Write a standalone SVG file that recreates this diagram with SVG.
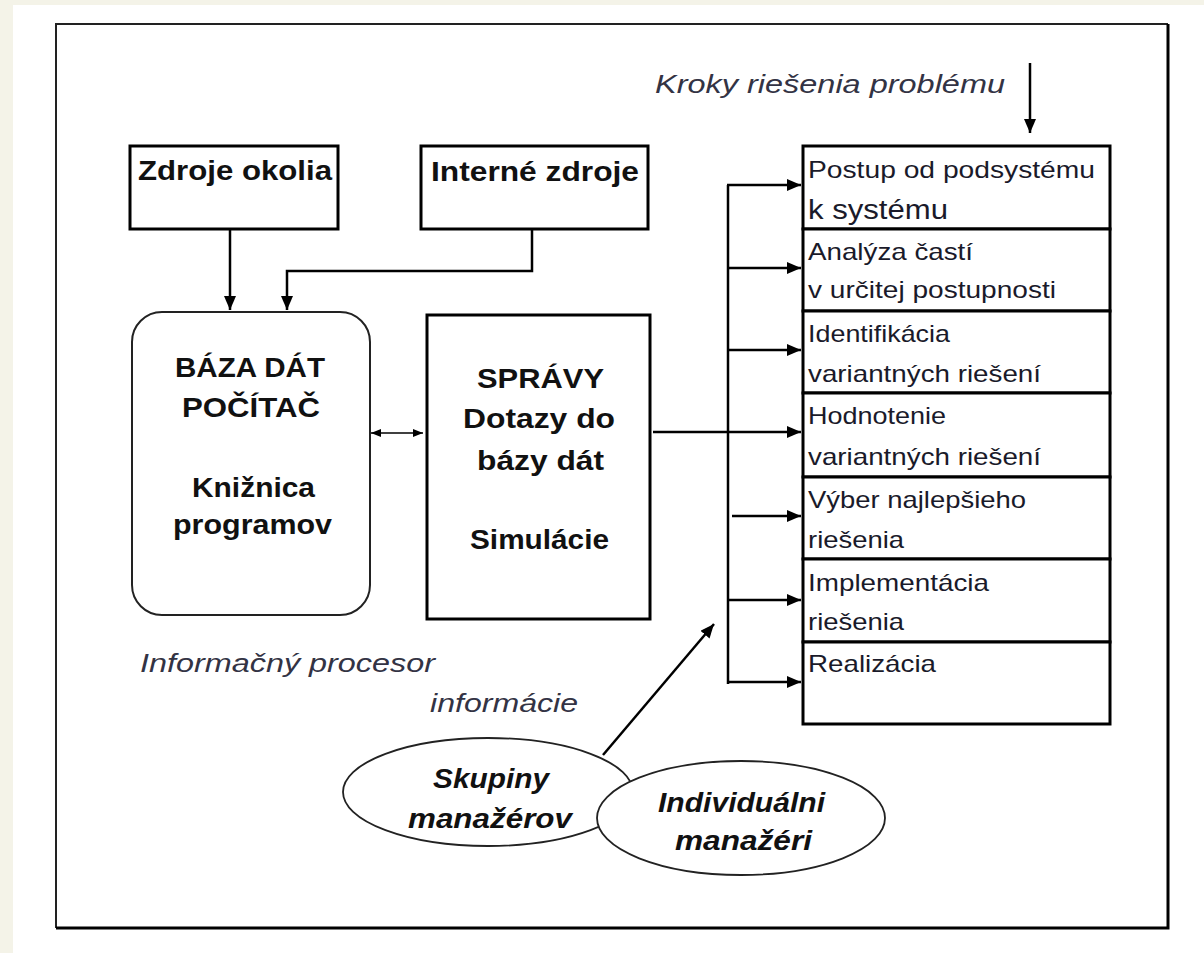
<svg xmlns="http://www.w3.org/2000/svg" width="1204" height="953" viewBox="0 0 1204 953">
<style>
.box{fill:#fff;stroke:#000;stroke-width:3}
.rbox{fill:#fff;stroke:#222;stroke-width:2}
.ell{fill:#fff;stroke:#222;stroke-width:1.8}
.ln{fill:none;stroke:#000;stroke-width:2.5}
.thin{fill:none;stroke:#000;stroke-width:1.6}
.b{font-family:"Liberation Sans",Arial,sans-serif;font-weight:bold;font-size:28px;fill:#111}
.r{font-family:"Liberation Sans",Arial,sans-serif;font-size:24px;fill:#1a1a2a}
.i{font-family:"Liberation Sans",Arial,sans-serif;font-style:italic;font-size:26px;fill:#333344}
.bi{font-family:"Liberation Sans",Arial,sans-serif;font-style:italic;font-weight:bold;font-size:28px;fill:#111}
</style>
<defs>
<marker id="arr" markerUnits="userSpaceOnUse" markerWidth="14" markerHeight="12" refX="14" refY="6" orient="auto"><path d="M0,0 L14,6 L0,12 z" fill="#000"/></marker>
<marker id="sarr" markerUnits="userSpaceOnUse" markerWidth="10" markerHeight="8" refX="10" refY="4" orient="auto-start-reverse"><path d="M0,0 L10,4 L0,8 z" fill="#000"/></marker>
</defs>
<rect x="0" y="0" width="1204" height="953" fill="#f4f3e8"/>
<rect x="13" y="5" width="1191" height="948" fill="#fff"/>
<g id="frame">
<path d="M56,928 L56,24 L1168,24" fill="none" stroke="#222" stroke-width="2"/>
<path d="M1168,24 L1168,928 L56,928" fill="none" stroke="#000" stroke-width="3"/>
</g>
<g id="connectors">
<line class="ln" x1="230" y1="229" x2="230" y2="310" marker-end="url(#arr)"/>
<polyline class="ln" points="532,229 532,271 287,271 287,310" marker-end="url(#arr)"/>
<line class="thin" x1="371" y1="433" x2="423" y2="433" marker-start="url(#sarr)" marker-end="url(#sarr)"/>
<line class="ln" x1="653" y1="432" x2="801" y2="432" marker-end="url(#arr)"/>
<line class="ln" x1="728" y1="185" x2="728" y2="684"/>
<line class="ln" x1="727" y1="185" x2="801" y2="185" marker-end="url(#arr)"/>
<line class="ln" x1="728" y1="268" x2="801" y2="268" marker-end="url(#arr)"/>
<line class="ln" x1="728" y1="350" x2="801" y2="350" marker-end="url(#arr)"/>
<line class="ln" x1="732" y1="516" x2="801" y2="516" marker-end="url(#arr)"/>
<line class="ln" x1="728" y1="600" x2="801" y2="600" marker-end="url(#arr)"/>
<line class="ln" x1="727" y1="682" x2="801" y2="682" marker-end="url(#arr)"/>
<line class="ln" x1="1030" y1="63" x2="1030" y2="133" marker-end="url(#arr)"/>
<line class="ln" x1="603" y1="755" x2="714" y2="624" marker-end="url(#arr)"/>
</g>
<g id="zdroje-okolia">
<rect class="box" x="130" y="146" width="208" height="83"/>
<text class="b" x="138" y="180" textLength="194" lengthAdjust="spacingAndGlyphs">Zdroje okolia</text>
</g>
<g id="interne-zdroje">
<rect class="box" x="421" y="146" width="227" height="83"/>
<text class="b" x="431" y="181" textLength="208" lengthAdjust="spacingAndGlyphs">Interné zdroje</text>
</g>
<g id="baza-dat">
<rect class="rbox" x="132" y="312" width="238" height="303" rx="30" ry="30"/>
<text class="b" x="175" y="377" textLength="150" lengthAdjust="spacingAndGlyphs">BÁZA DÁT</text>
<text class="b" x="182" y="417" textLength="138" lengthAdjust="spacingAndGlyphs">POČÍTAČ</text>
<text class="b" x="192" y="497" textLength="123" lengthAdjust="spacingAndGlyphs">Knižnica</text>
<text class="b" x="173" y="534" textLength="159" lengthAdjust="spacingAndGlyphs">programov</text>
</g>
<g id="spravy">
<rect class="box" x="427" y="315" width="223" height="304"/>
<text class="b" x="477" y="388" textLength="127" lengthAdjust="spacingAndGlyphs">SPRÁVY</text>
<text class="b" x="463" y="428" textLength="152" lengthAdjust="spacingAndGlyphs">Dotazy do</text>
<text class="b" x="477" y="470" textLength="127" lengthAdjust="spacingAndGlyphs">bázy dát</text>
<text class="b" x="470" y="549" textLength="139" lengthAdjust="spacingAndGlyphs">Simulácie</text>
</g>
<g id="kroky">
<text class="i" x="655" y="93" textLength="350" lengthAdjust="spacingAndGlyphs">Kroky riešenia problému</text>
</g>
<g id="step1">
<rect class="box" x="803" y="146" width="307" height="83"/>
<text class="r" x="808" y="178" textLength="287" lengthAdjust="spacingAndGlyphs">Postup od podsystému</text>
<text class="r" x="808" y="219" style="font-size:27px" textLength="140" lengthAdjust="spacingAndGlyphs">k systému</text>
</g>
<g id="step2">
<rect class="box" x="803" y="229" width="307" height="82"/>
<text class="r" x="808" y="260" textLength="165" lengthAdjust="spacingAndGlyphs">Analýza častí</text>
<text class="r" x="808" y="298" textLength="248" lengthAdjust="spacingAndGlyphs">v určitej postupnosti</text>
</g>
<g id="step3">
<rect class="box" x="803" y="311" width="307" height="82"/>
<text class="r" x="808" y="342" textLength="142" lengthAdjust="spacingAndGlyphs">Identifikácia</text>
<text class="r" x="808" y="382" textLength="233" lengthAdjust="spacingAndGlyphs">variantných riešení</text>
</g>
<g id="step4">
<rect class="box" x="803" y="393" width="307" height="84"/>
<text class="r" x="808" y="424" textLength="138" lengthAdjust="spacingAndGlyphs">Hodnotenie</text>
<text class="r" x="808" y="465" textLength="233" lengthAdjust="spacingAndGlyphs">variantných riešení</text>
</g>
<g id="step5">
<rect class="box" x="803" y="477" width="307" height="82"/>
<text class="r" x="808" y="508" textLength="218" lengthAdjust="spacingAndGlyphs">Výber najlepšieho</text>
<text class="r" x="808" y="548" textLength="96" lengthAdjust="spacingAndGlyphs">riešenia</text>
</g>
<g id="step6">
<rect class="box" x="803" y="559" width="307" height="83"/>
<text class="r" x="808" y="591" textLength="181" lengthAdjust="spacingAndGlyphs">Implementácia</text>
<text class="r" x="808" y="630" textLength="96" lengthAdjust="spacingAndGlyphs">riešenia</text>
</g>
<g id="step7">
<rect class="box" x="803" y="642" width="307" height="82"/>
<text class="r" x="808" y="672" textLength="128" lengthAdjust="spacingAndGlyphs">Realizácia</text>
</g>
<g id="labels">
<text class="i" x="140" y="672" textLength="295" lengthAdjust="spacingAndGlyphs">Informačný procesor</text>
<text class="i" x="430" y="712" textLength="148" lengthAdjust="spacingAndGlyphs">informácie</text>
</g>
<g id="skupiny">
<ellipse class="ell" cx="488" cy="792" rx="145" ry="54"/>
<text class="bi" x="433" y="788" textLength="116" lengthAdjust="spacingAndGlyphs">Skupiny</text>
<text class="bi" x="408" y="828" textLength="164" lengthAdjust="spacingAndGlyphs">manažérov</text>
</g>
<g id="individualni">
<ellipse class="ell" cx="741" cy="818" rx="144" ry="57"/>
<text class="bi" x="658" y="812" textLength="167" lengthAdjust="spacingAndGlyphs">Individuálni</text>
<text class="bi" x="675" y="850" textLength="137" lengthAdjust="spacingAndGlyphs">manažéri</text>
</g>
</svg>
